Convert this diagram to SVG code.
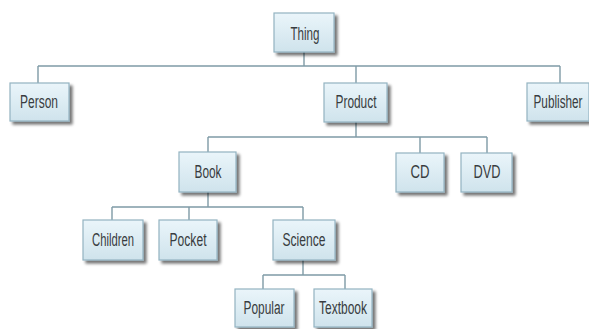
<svg xmlns="http://www.w3.org/2000/svg" width="589" height="329" viewBox="0 0 589 329">
  <defs>
    <linearGradient id="boxFill" x1="0" y1="0" x2="0" y2="1">
      <stop offset="0" stop-color="#eaf5fa"/>
      <stop offset="1" stop-color="#cfe3ec"/>
    </linearGradient>
    <filter id="shadow" x="-20%" y="-20%" width="150%" height="160%">
      <feGaussianBlur in="SourceAlpha" stdDeviation="1.6"/>
      <feOffset dx="3" dy="3" result="b"/>
      <feComponentTransfer><feFuncA type="linear" slope="0.55"/></feComponentTransfer>
      <feMerge><feMergeNode/><feMergeNode in="SourceGraphic"/></feMerge>
    </filter>
    <style>
      .box { fill: url(#boxFill); stroke: #93b3c1; stroke-width: 1.2; filter: url(#shadow); }
      .lbl { font-family: "Liberation Sans", Arial, sans-serif; font-size: 18px; fill: #383c40; text-anchor: middle; dominant-baseline: central; }
      .wire { fill: none; stroke: #7f9ba6; stroke-width: 1.4; }
    </style>
  </defs>
  <rect width="589" height="329" fill="#ffffff"/>

  <g id="connectors">
    <path class="wire" d="M304 52 V66 M38 66 H560 M38 66 V83 M356 66 V83 M560 66 V83"/>
    <path class="wire" d="M356 122 V137 M208 137 H487 M208 137 V152 M420 137 V153 M487 137 V153"/>
    <path class="wire" d="M208 192 V207 M112 207 H303 M112 207 V220 M189 207 V220 M303 207 V220"/>
    <path class="wire" d="M303 260 V275 M263 275 H345 M263 275 V289 M345 275 V289"/>
  </g>

  <g id="thing"><rect class="box" x="274" y="13" width="60" height="39"/><text class="lbl" x="305" y="34" textLength="29" lengthAdjust="spacingAndGlyphs">Thing</text></g>
  <g id="person"><rect class="box" x="10" y="83" width="59" height="38"/><text class="lbl" x="39" y="102" textLength="38" lengthAdjust="spacingAndGlyphs">Person</text></g>
  <g id="product"><rect class="box" x="324" y="83" width="63" height="39"/><text class="lbl" x="356" y="102" textLength="41" lengthAdjust="spacingAndGlyphs">Product</text></g>
  <g id="publisher"><rect class="box" x="527" y="83" width="62" height="38"/><text class="lbl" x="558" y="102" textLength="49" lengthAdjust="spacingAndGlyphs">Publisher</text></g>
  <g id="book"><rect class="box" x="179" y="152" width="57" height="40"/><text class="lbl" x="208" y="172" textLength="27" lengthAdjust="spacingAndGlyphs">Book</text></g>
  <g id="cd"><rect class="box" x="396" y="153" width="48" height="39"/><text class="lbl" x="420" y="172" textLength="19" lengthAdjust="spacingAndGlyphs">CD</text></g>
  <g id="dvd"><rect class="box" x="461" y="153" width="51" height="39"/><text class="lbl" x="487" y="172" textLength="27" lengthAdjust="spacingAndGlyphs">DVD</text></g>
  <g id="children"><rect class="box" x="83" y="220" width="60" height="40"/><text class="lbl" x="113" y="240" textLength="42" lengthAdjust="spacingAndGlyphs">Children</text></g>
  <g id="pocket"><rect class="box" x="159" y="220" width="58" height="40"/><text class="lbl" x="188" y="240" textLength="37" lengthAdjust="spacingAndGlyphs">Pocket</text></g>
  <g id="science"><rect class="box" x="273" y="220" width="62" height="40"/><text class="lbl" x="304" y="240" textLength="43" lengthAdjust="spacingAndGlyphs">Science</text></g>
  <g id="popular"><rect class="box" x="235" y="289" width="59" height="38"/><text class="lbl" x="264" y="308" textLength="41" lengthAdjust="spacingAndGlyphs">Popular</text></g>
  <g id="textbook"><rect class="box" x="314" y="289" width="58" height="38"/><text class="lbl" x="343" y="308" textLength="48" lengthAdjust="spacingAndGlyphs">Textbook</text></g>
</svg>
